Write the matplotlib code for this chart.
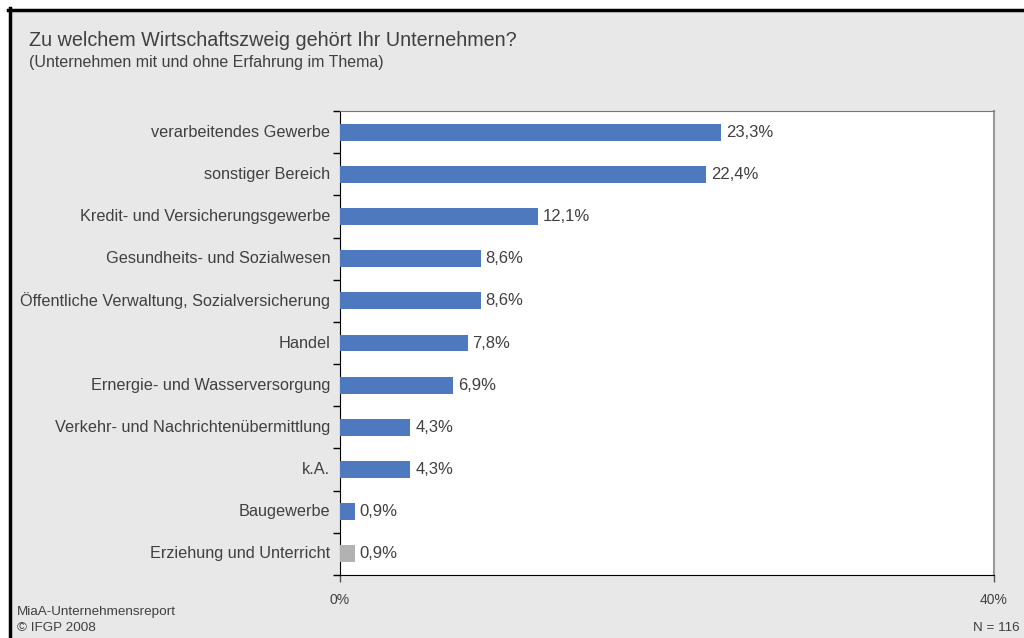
import matplotlib.pyplot as plt
from matplotlib.patches import Rectangle

plt.rcParams["font.family"] = ["Liberation Sans", "DejaVu Sans"]

categories = [
    "verarbeitendes Gewerbe",
    "sonstiger Bereich",
    "Kredit- und Versicherungsgewerbe",
    "Gesundheits- und Sozialwesen",
    "Öffentliche Verwaltung, Sozialversicherung",
    "Handel",
    "Ernergie- und Wasserversorgung",
    "Verkehr- und Nachrichtenübermittlung",
    "k.A.",
    "Baugewerbe",
    "Erziehung und Unterricht",
]
shares = [23.3, 22.4, 12.1, 8.6, 8.6, 7.8, 6.9, 4.3, 4.3, 0.9, 0.9]
bar_colors = ["#4E79BE"] * 10 + ["#B2B2B2"]
x_ticks = [0, 40]

TEXT = "#404040"
W, H = 1024, 638

fig = plt.figure(figsize=(W / 100, H / 100), dpi=100)
fig.patch.set_facecolor("white")

# grey panel with a heavy border on top and left
fig.patches.append(Rectangle((9 / W, 0), 1, 1 - 9 / H, transform=fig.transFigure,
                             facecolor="#E8E8E8", edgecolor="none", zorder=0))
fig.add_artist(plt.Line2D([9.5 / W, 9.5 / W], [0, 1 - 8 / H], color="black", lw=2.5,
                          transform=fig.transFigure))
fig.add_artist(plt.Line2D([8 / W, 1], [1 - 9.5 / H, 1 - 9.5 / H], color="black", lw=2.5,
                          transform=fig.transFigure))

left, right, top, bottom = 340, 994, 111, 575
ax = fig.add_axes([left / W, 1 - bottom / H, (right - left) / W, (bottom - top) / H])
ax.set_zorder(2)
ax.set_facecolor("white")

y = list(range(len(categories)))
ax.barh(y, shares, height=0.4, color=bar_colors, zorder=3)
ax.set_ylim(len(categories) - 0.5, -0.5)
ax.set_xlim(0, 40)

for yi, v in zip(y, shares):
    ax.text(v + 0.3, yi, f"{v:.1f}%".replace(".", ","), va="center", ha="left",
            fontsize=12, color=TEXT)

# category labels sit outside the axes, ticks mark the boundaries
ax.set_yticks([i - 0.5 for i in range(len(categories) + 1)])
ax.set_yticklabels([])
ax.tick_params(axis="y", length=5, width=1, color="black", direction="out")
for yi, name in zip(y, categories):
    ax.text(-0.6, yi, name, ha="right", va="center", fontsize=11.7, color=TEXT,
            transform=ax.transData, clip_on=False)

ax.set_xticks(x_ticks)
ax.set_xticklabels([f"{t}%" for t in x_ticks], fontsize=10, color=TEXT)
ax.tick_params(axis="x", length=5, width=1, color="#555555", direction="out", pad=8)

ax.spines["left"].set_color("black")
ax.spines["bottom"].set_color("black")
ax.spines["top"].set_color("#777777")
ax.spines["right"].set_color("#999999")
ax.spines["right"].set_linewidth(1.5)

fig.text(29 / W, 1 - 40 / H, "Zu welchem Wirtschaftszweig gehört Ihr Unternehmen?",
         fontsize=14.2, color=TEXT, va="center", ha="left")
fig.text(29 / W, 1 - 62 / H, "(Unternehmen mit und ohne Erfahrung im Thema)",
         fontsize=11.5, color=TEXT, va="center", ha="left")
fig.text(17 / W, 1 - 612 / H, "MiaA-Unternehmensreport", fontsize=9.7, color=TEXT,
         va="center", ha="left")
fig.text(17 / W, 1 - 628 / H, "© IFGP 2008", fontsize=9.7, color=TEXT,
         va="center", ha="left")
fig.text(1020 / W, 1 - 628 / H, "N = 116", fontsize=9.7, color=TEXT,
         va="center", ha="right")

fig.savefig("out.png", dpi=100)
